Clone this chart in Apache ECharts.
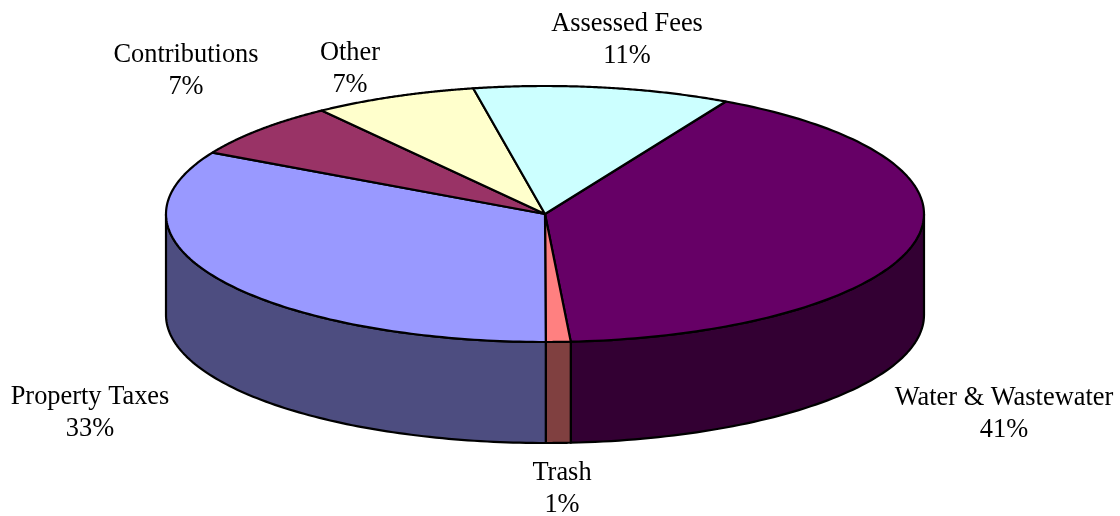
<!DOCTYPE html>
<html><head><meta charset="utf-8">
<style>html,body{margin:0;padding:0;background:#fff}#c{width:1120px;height:516px}</style>
<script src="https://cdn.jsdelivr.net/npm/echarts@6/dist/echarts.min.js"></script>
</head><body><div id="c"></div>
<script>
const categories = ['Water & Wastewater','Trash','Property Taxes','Contributions','Other','Assessed Fees'];
const percentLabels = ['41%','1%','33%','7%','7%','11%'];
const values = [41,1.05,33,7,7,10.95];
const topColors = ['#660066','#FF8080','#9999FF','#993366','#FFFFCC','#CCFFFF'];
const sideColors = ['#330033','#804040','#4D4D80','#4D1A33','#808066','#668080'];
const labelCenters = [[1004,414],[562,489],[90,413],[186,71],[350,69],[627,40]];

const CX=545, CY=214, RX=379, RY=128, DEPTH=101, START=61.5;
const total = values.reduce((a,b)=>a+b,0);
const pt=(deg,dy)=>{const r=deg*Math.PI/180;return [CX+RX*Math.cos(r),CY-RY*Math.sin(r)+dy];};

function renderItem(params, api){
  const i=params.dataIndex;
  let before=0; for(let k=0;k<i;k++) before+=values[k];
  const a0=START-before/total*360, a1=a0-api.value(1)/total*360;
  const arc=[];
  for(let t=0;t<=120;t++) arc.push(a0+(a1-a0)*t/120);
  const children=[];
  const front=arc.filter(a=>Math.sin(a*Math.PI/180)<=0.0005);
  if(front.length>1){
    const pts=front.map(a=>pt(a,0)).concat(front.slice().reverse().map(a=>pt(a,DEPTH)));
    children.push({type:'polygon',shape:{points:pts},
      style:{fill:sideColors[i],stroke:'#000',lineWidth:2.2,lineJoin:'round'}});
  }
  const top=[[CX,CY]].concat(arc.map(a=>pt(a,0)));
  children.push({type:'polygon',z2:5,shape:{points:top},
    style:{fill:topColors[i],stroke:'#000',lineWidth:2.2,lineJoin:'round'}});
  const c=labelCenters[i];
  children.push({type:'text',z2:10,x:c[0],y:c[1],style:{
    text:categories[i]+'\n'+percentLabels[i],fill:'#000',align:'center',verticalAlign:'middle',
    font:'26.4px "Liberation Serif"',lineHeight:32}});
  return {type:'group',children};
}
const chart=echarts.init(document.getElementById('c'),null,{renderer:'canvas'});
chart.setOption({
  animation:false,
  backgroundColor:'#fff',
  series:[{type:'custom',coordinateSystem:'none',clip:false,renderItem,
    data:categories.map((n,i)=>({name:n,value:[i,values[i]]})),
    encode:{value:1}}]
});
</script></body></html>
